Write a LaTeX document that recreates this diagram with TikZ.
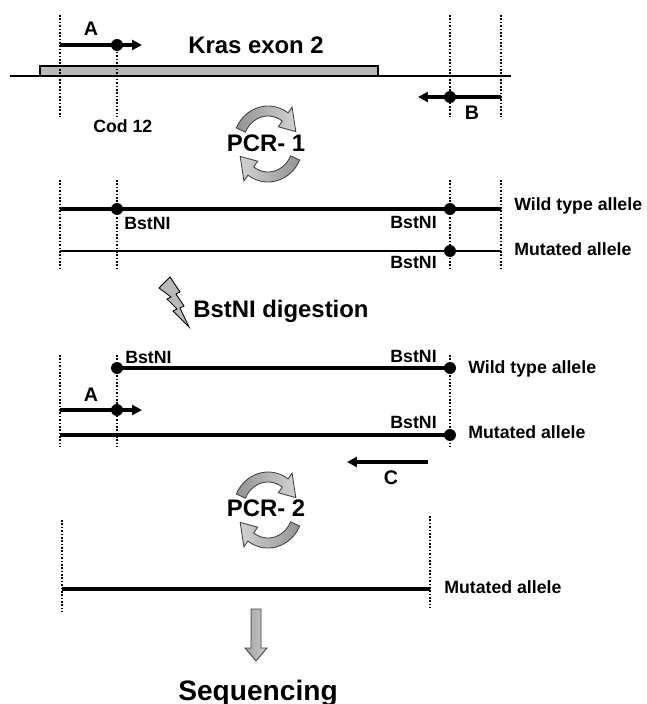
\documentclass[tikz,border=0pt]{standalone}
\usepackage{fontspec}
\setmainfont{Liberation Sans}
\usetikzlibrary{arrows.meta}
\begin{document}
\begin{tikzpicture}[x=0.025cm, y=0.025cm, >={Triangle[length=7pt, width=7pt]},
    every node/.style={inner sep=0pt},
    big/.style={font=\fontsize{17}{20}\selectfont\bfseries},
    lbl/.style={font=\fontsize{12.6}{15}\selectfont\bfseries},
    letter/.style={font=\fontsize{14}{16}\selectfont\bfseries},
    guide/.style={line width=1.3pt, dash pattern=on 1.2pt off 1.2pt},
    strand/.style={line width=2.2pt},
    thinstrand/.style={line width=1.5pt},
    primer/.style={line width=2.2pt, ->},
    site/.style={circle, fill=black, minimum size=8.5pt},
    shadearrow/.style={draw=black!75, line width=0.6pt},
    pics/pcrcycle/.style={code={
      \path[shadearrow, left color=gray!85, right color=gray!35]
        (155:35 and 38) arc[start angle=155, end angle=55, x radius=35, y radius=38]
        -- (55:42 and 45) -- (22:30 and 33) -- (55:18 and 21) -- (55:25 and 28)
        arc[start angle=55, end angle=155, x radius=25, y radius=28] -- cycle;
      \path[shadearrow, left color=gray!35, right color=gray!85]
        (335:35 and 38) arc[start angle=335, end angle=235, x radius=35, y radius=38]
        -- (235:42 and 45) -- (202:30 and 33) -- (235:18 and 21) -- (235:25 and 28)
        arc[start angle=235, end angle=335, x radius=25, y radius=28] -- cycle;
    }}]
    \useasboundingbox (0,0) rectangle (646,-704);

    % Kras exon 2 und Primer A / B
    \coordinate (g0) at (10,-76);
    \coordinate (g1) at (511,-76);
    \draw[line width=1.4pt] (g0) -- (g1);
    \draw[line width=1.2pt, fill=gray!55] (40,-76) rectangle (378,-66);
    \node[big, anchor=base west] (kras) at (188,-53) {Kras exon 2};
    \draw[guide] (60,-15) -- (60,-117);
    \draw[guide] (117,-45) -- (117,-117);
    \draw[guide] (450,-15) -- (450,-117);
    \draw[guide] (501,-15) -- (501,-117);
    \coordinate (a0) at (60,-45);
    \coordinate (a1) at (142,-45);
    \draw[primer] (a0) -- (a1);
    \node[site] (cod) at (117,-45) {};
    \node[letter, anchor=base] (alab) at (91,-35) {A};
    \node[lbl, anchor=base west] (codlab) at (93,-132) {Cod 12};
    \coordinate (b0) at (501,-97);
    \coordinate (b1) at (418,-97);
    \draw[primer] (b0) -- (b1);
    \node[site] (bsite) at (450,-97) {};
    \node[letter, anchor=base] (blab) at (472,-119) {B};

    % PCR-1
    \pic at (268,-144) {pcrcycle};
    \node[big, anchor=base] (pcr1) at (266,-151) {PCR- 1};

    % Amplifikat nach PCR-1
    \draw[guide] (60,-180) -- (60,-270);
    \draw[guide] (117,-180) -- (117,-270);
    \draw[guide] (450,-180) -- (450,-270);
    \draw[guide] (501,-180) -- (501,-270);
    \coordinate (w0) at (60,-209);
    \coordinate (w1) at (501,-209);
    \draw[strand] (w0) -- (w1);
    \node[site] (wcut1) at (117,-209) {};
    \node[site] (wcut2) at (450,-209) {};
    \coordinate (m0) at (60,-251);
    \coordinate (m1) at (501,-251);
    \draw[thinstrand] (m0) -- (m1);
    \node[site] (mcut) at (450,-251) {};
    \node[lbl, anchor=base west] (bst1) at (124,-229) {BstNI};
    \node[lbl, anchor=base east] (bst2) at (437,-228) {BstNI};
    \node[lbl, anchor=base east] (bst3) at (437,-268) {BstNI};
    \node[lbl, anchor=base west] (wt1) at (514,-210) {Wild type allele};
    \node[lbl, anchor=base west] (mut1) at (514,-255) {Mutated allele};

    % Verdau
    \path[draw=black, line width=0.6pt, fill=gray!55]
      (170,-277) -- (180,-292) -- (176,-294) -- (184,-306) -- (180,-308) -- (189,-327)
      -- (173,-311) -- (177,-309) -- (167,-299) -- (171,-297) -- (159,-288) -- cycle;
    \node[big, anchor=base west] (digest) at (193,-317) {BstNI digestion};

    % Fragmente nach Verdau
    \draw[guide] (60,-355) -- (60,-447);
    \draw[guide] (117,-355) -- (117,-447);
    \draw[guide] (450,-355) -- (450,-447);
    \coordinate (f0) at (117,-368);
    \coordinate (f1) at (450,-368);
    \draw[strand] (f0) -- (f1);
    \node[site] (fcut1) at (117,-368) {};
    \node[site] (fcut2) at (450,-368) {};
    \coordinate (p0) at (60,-410);
    \coordinate (p1) at (142,-410);
    \draw[primer] (p0) -- (p1);
    \node[site] (psite) at (117,-410) {};
    \node[letter, anchor=base] (alab2) at (91,-401) {A};
    \coordinate (n0) at (60,-435);
    \coordinate (n1) at (450,-435);
    \draw[strand] (n0) -- (n1);
    \node[site] (ncut) at (450,-435) {};
    \node[lbl, anchor=base west] (bst4) at (125,-363) {BstNI};
    \node[lbl, anchor=base east] (bst5) at (437,-362) {BstNI};
    \node[lbl, anchor=base east] (bst6) at (437,-428) {BstNI};
    \node[lbl, anchor=base west] (wt2) at (468,-373) {Wild type allele};
    \node[lbl, anchor=base west] (mut2) at (468,-438) {Mutated allele};
    \coordinate (c0) at (428,-462);
    \coordinate (c1) at (347,-462);
    \draw[primer] (c0) -- (c1);
    \node[letter, anchor=base] (clab) at (391,-484) {C};

    % PCR-2
    \pic at (268,-510) {pcrcycle};
    \node[big, anchor=base] (pcr2) at (266,-516) {PCR- 2};

    % Produkt und Sequenzierung
    \draw[guide] (62,-520) -- (62,-612);
    \draw[guide] (430,-516) -- (430,-608);
    \coordinate (s0) at (62,-589);
    \coordinate (s1) at (430,-589);
    \draw[strand] (s0) -- (s1);
    \node[lbl, anchor=base west] (mut3) at (444,-593) {Mutated allele};
    \path[shadearrow, left color=gray!75, right color=gray!40]
      (251,-609) -- (261,-609) -- (261,-648) -- (267,-648) -- (256,-661)
      -- (245,-648) -- (251,-648) -- cycle;
    \node[font=\fontsize{20}{24}\selectfont\bfseries, anchor=base] (seq) at (258,-700) {Sequencing};
\end{tikzpicture}
\end{document}
